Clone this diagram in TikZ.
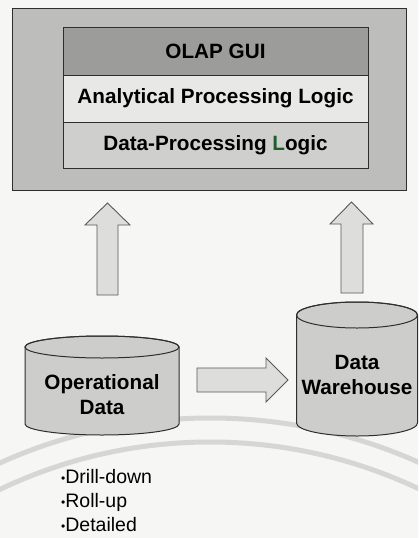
\documentclass[tikz,border=0pt]{standalone}
\usepackage{fontspec}
\setmainfont{Liberation Sans}
\usetikzlibrary{calc}
\definecolor{bgc}{HTML}{F6F6F4}
\definecolor{outerc}{HTML}{BDBDBB}
\definecolor{guic}{HTML}{9C9C9A}
\definecolor{aplc}{HTML}{E8E8E6}
\definecolor{dplc}{HTML}{CFCFCD}
\definecolor{cylc}{HTML}{CDCDCB}
\definecolor{arrc}{HTML}{DDDDDB}
\definecolor{linec}{HTML}{2E2E2E}
\definecolor{wmc}{HTML}{D6D6D4}
\definecolor{greenL}{HTML}{1E5E2A}
\tikzset{
  layer/.style={draw=linec, line width=1pt, minimum width=305pt, inner sep=0pt,
    font=\fontsize{20.7}{24}\selectfont\bfseries},
  blockarrow/.style={draw=linec!80, line width=0.9pt, fill=arrc, line join=miter},
  cyl/.style={draw=linec, line width=1pt, fill=cylc},
  cyltext/.style={align=center, font=\fontsize{20.7}{25}\selectfont\bfseries, inner sep=0pt},
}
\newcommand{\mybul}{{\fontsize{12}{12}\selectfont\raisebox{1.5pt}{•}}}
\begin{document}
\begin{tikzpicture}[x=1pt,y=1pt]
\useasboundingbox (0,0) rectangle (418,-538);
\fill[bgc] (0,0) rectangle (418,-538);
% watermark arcs
\begin{scope}
\clip (0,0) rectangle (418,-538);
\draw[wmc, line width=5pt] (210,-930) circle (512);
\draw[wmc, line width=5pt] (210,-930) circle (488);
\end{scope}
% outer box
\node[draw=linec, line width=1pt, fill=outerc, minimum width=394pt, minimum height=182pt, inner sep=0pt]
  (outer) at (209,-99) {};
% layers
\node[layer, fill=guic, minimum height=48pt] (gui) at (215.5,-51) {OLAP GUI};
\node[layer, fill=aplc, minimum height=47pt] (apl) at (215.5,-98.5) {Analytical Processing Logic};
\node[layer, fill=dplc, minimum height=46pt] (dpl) at (215.5,-145) {Data-Processing {\color{greenL}L}ogic};
% left cylinder
\coordinate (lc) at (102,-347);
\draw[cyl] (25,-347) -- (25,-424) arc[start angle=180, end angle=360, x radius=77, y radius=11]
  -- (179,-347) arc[start angle=0, end angle=180, x radius=77, y radius=11] -- cycle;
\draw[linec, line width=1pt] (lc) ellipse[x radius=77, y radius=11];
\node[cyltext] (opdata) at (102,-394.5) {Operational\\Data};
% right cylinder
\coordinate (rc) at (357,-315);
\draw[cyl] (296.5,-315) -- (296.5,-423) arc[start angle=180, end angle=360, x radius=60.5, y radius=13]
  -- (417.5,-315) arc[start angle=0, end angle=180, x radius=60.5, y radius=13] -- cycle;
\draw[linec, line width=1pt] (rc) ellipse[x radius=60.5, y radius=13];
\node[cyltext] (dw) at (357,-374.5) {Data\\Warehouse};
% up arrow left
\coordinate (la) at (107.5,-295);
\draw[blockarrow] (97,-295) -- (97,-225) -- (85,-225) -- (107.5,-203) -- (130,-225) -- (118,-225) -- (118,-295) -- cycle;
% up arrow right
\coordinate (ra) at (351.5,-293);
\draw[blockarrow] (341,-293) -- (341,-224) -- (330,-224) -- (351.5,-202) -- (373,-224) -- (363,-224) -- (363,-293) -- cycle;
% right arrow
\draw[blockarrow] (197,-368) -- (266,-368) -- (266,-358) -- (288,-380) -- (266,-402) -- (266,-392) -- (197,-392) -- cycle;
% bullets
\node[align=left, anchor=west, inner sep=0pt, font=\fontsize{19.5}{24}\selectfont] (bul) at (61,-501)
  {\mybul Drill-down\\\mybul Roll-up\\\mybul Detailed};
\end{tikzpicture}
\end{document}
